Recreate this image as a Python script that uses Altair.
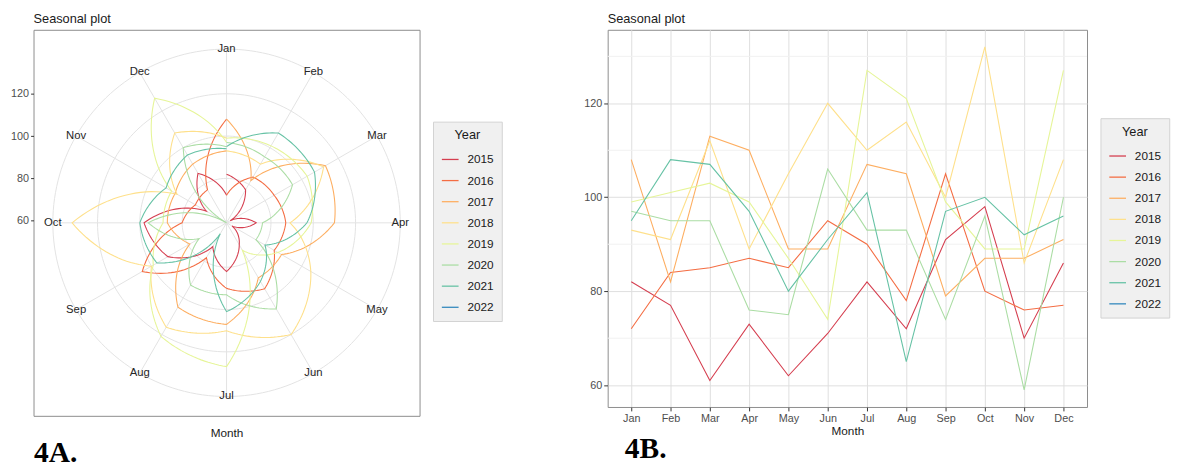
import altair as alt
import pandas as pd

months = ["Jan", "Feb", "Mar", "Apr", "May", "Jun", "Jul", "Aug", "Sep", "Oct", "Nov", "Dec"]
years = ["2015", "2016", "2017", "2018", "2019", "2020", "2021", "2022"]
v2015 = [82, 77, 61, 73, 62, 71, 82, 72, 91, 98, 70, 86]
v2016 = [72, 84, 85, 87, 85, 95, 90, 78, 105, 80, 76, 77]
v2017 = [108, 82, 113, 110, 89, 89, 107, 105, 79, 87, 87, 91]
v2018 = [93, 91, 112, 89, 105, 120, 110, 116, 100, 132, 86, 108]
v2019 = [99, 101, 103, 99, 87, 74, 127, 121, 99, 89, 89, 127]
v2020 = [97, 95, 95, 76, 75, 106, 93, 93, 74, 96, 59, 100]
v2021 = [95, 108, 107, 97, 80, 91, 101, 65, 97, 100, 92, 96]
v2022 = [94]
palette = ["#D53E4F", "#F46D43", "#FDAE61", "#FEE08B", "#E6F598", "#ABDDA4", "#66C2A5", "#3288BD"]
r_ticks = [60, 80, 100, 120]
minor_ticks = [70, 90, 110, 130]
panel_labels = ["4A.", "4B."]
title_text = "Seasonal plot"

series = [v2015, v2016, v2017, v2018, v2019, v2020, v2021, v2022]
rows = []
for y, vals in zip(years, series):
    for i, v in enumerate(vals):
        rows.append({"year": y, "m": i + 1, "month": months[i], "value": v})
df = pd.DataFrame(rows)

# polar version: each year is joined to the following January (as ggseasonplot does)
prows = list(rows)
for k in range(len(years) - 1):
    if len(series[k]) == 12 and len(series[k + 1]) > 0:
        prows.append({"year": years[k], "m": 13, "month": "Jan", "value": series[k + 1][0]})
dfp = pd.DataFrame(prows)

allv = [v for s in series for v in s]
R0, RMAX = min(allv), max(allv)
SPAN = RMAX - R0
H = 0.5 / 0.4 * SPAN
OUTER = R0 + 0.45 / 0.4 * SPAN
lo, hi = R0 - H, R0 + H
NM = len(months)

FONT = "Liberation Sans"
GRID = "#E2E2E2"
TXT = "#1A1A1A"
LAB = "#4D4D4D"

pscale = alt.Scale(domain=[lo, hi], nice=False, zero=False)


def PX(f):
    return alt.X(f"{f}:Q", scale=pscale,
                 axis=alt.Axis(title="Month", labels=False, ticks=False, domain=False, grid=False,
                               titlePadding=12, titleFontSize=12, titleFontWeight="normal",
                               titleColor=TXT, titleFont=FONT))


def PY(f):
    return alt.Y(f"{f}:Q", scale=pscale,
                 axis=alt.Axis(title=None, values=r_ticks, grid=False, domain=False, tickSize=3,
                               tickColor="#333333", labelFontSize=11, labelColor=LAB, labelFont=FONT,
                               labelPadding=2, minExtent=25, maxExtent=25))


def legend(lx, ly):
    return alt.Legend(orient="none", legendX=lx, legendY=ly, title="Year", titleAnchor="middle",
                      titleFontSize=13, titleFontWeight="normal", titleColor=TXT, titleFont=FONT,
                      titlePadding=8, fillColor="#F0F0F0", strokeColor="#D2D2D2", padding=8,
                      symbolType="stroke", symbolSize=290, symbolStrokeWidth=1.3,
                      labelFontSize=12, labelColor=TXT, labelFont=FONT, labelOffset=8,
                      rowPadding=5.5)


col_left = alt.Color("year:N", scale=alt.Scale(domain=years, range=palette), legend=legend(406.7, 93.5))
col_right = alt.Color("year:N", scale=alt.Scale(domain=years, range=palette), legend=legend(501.7, 90))

# ---------- polar panel ----------
circles = alt.Chart(pd.DataFrame({"r": r_ticks + [OUTER]})).transform_calculate(
    a="sequence(0, 362, 2)"
).transform_flatten(["a"]).transform_calculate(
    px=f"{R0} + (datum.r - {R0}) * sin(datum.a * PI / 180)",
    py=f"{R0} + (datum.r - {R0}) * cos(datum.a * PI / 180)",
).mark_line(stroke=GRID, strokeWidth=1).encode(
    x=PX("px"), y=PY("py"), detail="r:Q", order="a:Q"
)

spokes = alt.Chart(pd.DataFrame({"month": months, "m": list(range(1, NM + 1))})).transform_calculate(
    th=f"(datum.m - 1) * 2 * PI / {NM}",
    cx=f"{R0}", cy=f"{R0}",
).transform_calculate(
    ex=f"{R0} + {OUTER - R0} * sin(datum.th)",
    ey=f"{R0} + {OUTER - R0} * cos(datum.th)",
).mark_rule(stroke=GRID, strokeWidth=1).encode(
    x=PX("cx"), y=PY("cy"), x2="ex:Q", y2="ey:Q"
)

plines = alt.Chart(dfp).transform_window(
    next_v="lead(value)", next_m="lead(m)", groupby=["year"], sort=[alt.SortField("m")]
).transform_filter("datum.next_v != null").transform_calculate(
    ts="sequence(0, 1.0001, 0.05)"
).transform_flatten(["ts"]).transform_calculate(
    mm="datum.m + datum.ts * (datum.next_m - datum.m)",
    vv="datum.value + datum.ts * (datum.next_v - datum.value)",
).transform_calculate(
    th=f"(datum.mm - 1) * 2 * PI / {NM}"
).transform_calculate(
    px=f"{R0} + (datum.vv - {R0}) * sin(datum.th)",
    py=f"{R0} + (datum.vv - {R0}) * cos(datum.th)",
).mark_line(strokeWidth=1.1).encode(
    x=PX("px"), y=PY("py"), color=col_left, order="mm:Q", detail="year:N"
)

mlabels = alt.Chart(pd.DataFrame({"month": months, "m": list(range(1, NM + 1))})).transform_calculate(
    th=f"(datum.m - 1) * 2 * PI / {NM}"
).transform_calculate(
    px=f"{R0} + {OUTER - R0} * sin(datum.th)",
    py=f"{R0} + {OUTER - R0} * cos(datum.th)",
).mark_text(fontSize=11.5, font=FONT, color="#262626", align="center", baseline="middle").encode(
    x=PX("px"), y=PY("py"), text="month:N"
)

tagA = alt.Chart(pd.DataFrame({"t": [panel_labels[0]]})).mark_text(
    font="Liberation Serif", fontSize=30, fontWeight="bold", color="#000000", align="left",
    baseline="alphabetic"
).encode(x=alt.value(0.5), y=alt.value(439.5), text="t:N")

left = alt.layer(circles, spokes, plines, mlabels, tagA).properties(
    width=393, height=393, title=title_text
)

# ---------- cartesian panel ----------
ylo = R0 - 0.05 * SPAN
yhi = RMAX + 0.05 * SPAN
yscale = alt.Scale(domain=[ylo, yhi], nice=False, zero=False)
yaxis = alt.Axis(title=None, values=r_ticks, grid=True, gridColor="#DEDEDE", domain=False, tickSize=4,
                 tickColor="#333333", labelFontSize=11, labelColor=LAB, labelFont=FONT, labelPadding=2,
                 minExtent=27, maxExtent=27)
xaxis = alt.Axis(title="Month", labelAngle=0, grid=True, gridColor="#DEDEDE", domain=False, tickSize=4,
                 tickColor="#333333", labelFontSize=11, labelColor=LAB, labelFont=FONT, labelPadding=2,
                 titlePadding=2, titleFontSize=12, titleFontWeight="normal", titleColor=TXT, titleFont=FONT)

minor = alt.Chart(pd.DataFrame({"v": minor_ticks})).mark_rule(stroke="#F1F1F1", strokeWidth=1).encode(
    y=alt.Y("v:Q", scale=yscale, axis=yaxis)
)

rlines = alt.Chart(df).mark_line(strokeWidth=1.1).encode(
    x=alt.X("month:O", sort=months, scale=alt.Scale(type="point", padding=0.6), axis=xaxis),
    y=alt.Y("value:Q", scale=yscale, axis=yaxis),
    color=col_right,
    detail="year:N",
)

tagB = alt.Chart(pd.DataFrame({"t": [panel_labels[1]]})).mark_text(
    font="Liberation Serif", fontSize=30, fontWeight="bold", color="#000000", align="left",
    baseline="alphabetic"
).encode(x=alt.value(17.4), y=alt.value(435.5), text="t:N")

right = alt.layer(minor, rlines, tagB).properties(width=488, height=384, title=title_text)

chart = alt.hconcat(left, right, spacing=78.5).resolve_scale(color="independent").resolve_legend(
    color="independent"
).properties(padding=0).configure(font=FONT).configure_view(
    stroke="#8C8C8C", strokeWidth=1
).configure_title(
    fontSize=13, anchor="start", frame="group", fontWeight="normal", color=TXT, offset=4, font=FONT
)

chart.save("out.html", embed_options={"renderer": "svg", "actions": False})
